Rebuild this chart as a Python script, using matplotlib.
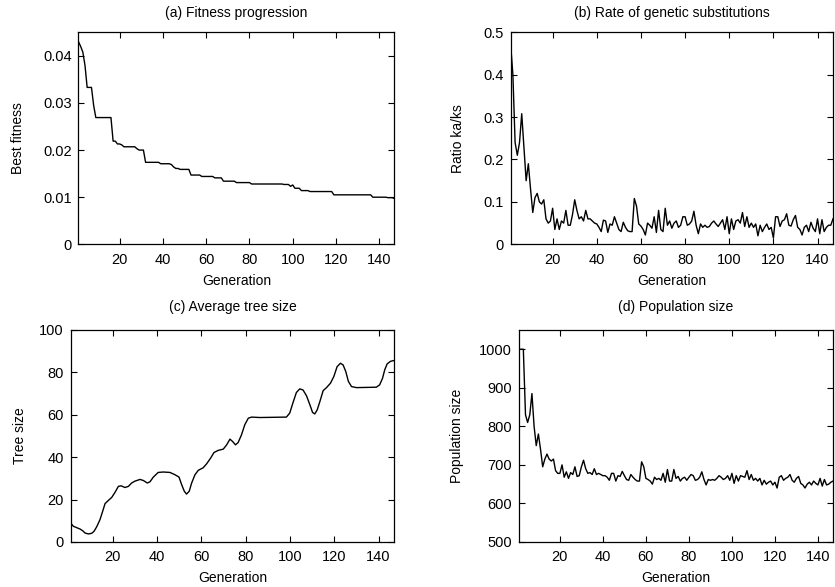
import matplotlib
matplotlib.use("Agg")
import matplotlib.pyplot as plt
import numpy as np
from matplotlib.ticker import FormatStrFormatter

plt.rcParams['font.family'] = ['Liberation Sans', 'DejaVu Sans']
plt.rcParams['font.size'] = 10

gens = np.arange(1, 148)

# (a) best fitness, one value per generation
fitness = [
    0.0430, 0.0420, 0.0408, 0.0380, 0.0333, 0.0333, 0.0333, 0.0295, 0.0269, 0.0269,
    0.0269, 0.0269, 0.0269, 0.0269, 0.0269, 0.0269, 0.0219, 0.0219, 0.0213, 0.0213,
    0.0211, 0.0207, 0.0207, 0.0207, 0.0207, 0.0207, 0.0207, 0.0203, 0.0200, 0.0200,
    0.0200, 0.0174, 0.0174, 0.0174, 0.0174, 0.0174, 0.0174, 0.0174, 0.0171, 0.0171,
    0.0171, 0.0171, 0.0171, 0.0169, 0.0164, 0.0161, 0.0161, 0.0159, 0.0159, 0.0159,
    0.0159, 0.0159, 0.0147, 0.0147, 0.0147, 0.0147, 0.0147, 0.0144, 0.0144, 0.0144,
    0.0144, 0.0144, 0.0144, 0.0141, 0.0141, 0.0141, 0.0141, 0.0134, 0.0134, 0.0134,
    0.0134, 0.0134, 0.0134, 0.0131, 0.0131, 0.0131, 0.0131, 0.0131, 0.0131, 0.0131,
    0.0128, 0.0128, 0.0128, 0.0128, 0.0128, 0.0128, 0.0128, 0.0128, 0.0128, 0.0128,
    0.0128, 0.0128, 0.0128, 0.0128, 0.0128, 0.0127, 0.0127, 0.0127, 0.0123, 0.0126,
    0.0119, 0.0119, 0.0119, 0.0114, 0.0114, 0.0114, 0.0114, 0.0112, 0.0112, 0.0112,
    0.0112, 0.0112, 0.0112, 0.0112, 0.0112, 0.0112, 0.0112, 0.0112, 0.0105, 0.0105,
    0.0105, 0.0105, 0.0105, 0.0105, 0.0105, 0.0105, 0.0105, 0.0105, 0.0105, 0.0105,
    0.0105, 0.0105, 0.0105, 0.0105, 0.0105, 0.0105, 0.0100, 0.0100, 0.0100, 0.0100,
    0.0100, 0.0100, 0.0100, 0.0099, 0.0099, 0.0099, 0.0097,
]

# (b) ka/ks ratio
ratio = [
    0.470, 0.400, 0.240, 0.210, 0.240, 0.308, 0.230, 0.150, 0.190, 0.130,
    0.075, 0.110, 0.120, 0.100, 0.095, 0.105, 0.060, 0.050, 0.055, 0.085,
    0.035, 0.060, 0.035, 0.055, 0.050, 0.080, 0.045, 0.045, 0.070, 0.105,
    0.080, 0.060, 0.065, 0.055, 0.080, 0.060, 0.060, 0.055, 0.050, 0.048,
    0.040, 0.030, 0.057, 0.055, 0.028, 0.048, 0.045, 0.065, 0.050, 0.035,
    0.030, 0.052, 0.040, 0.032, 0.030, 0.030, 0.108, 0.090, 0.048, 0.043,
    0.035, 0.022, 0.050, 0.045, 0.038, 0.065, 0.028, 0.080, 0.035, 0.030,
    0.085, 0.045, 0.055, 0.038, 0.050, 0.055, 0.040, 0.045, 0.065, 0.065,
    0.045, 0.048, 0.055, 0.078, 0.045, 0.025, 0.048, 0.040, 0.045, 0.040,
    0.042, 0.050, 0.055, 0.048, 0.042, 0.050, 0.058, 0.035, 0.065, 0.025,
    0.060, 0.035, 0.055, 0.058, 0.050, 0.075, 0.042, 0.065, 0.040, 0.050,
    0.040, 0.048, 0.020, 0.045, 0.030, 0.040, 0.048, 0.035, 0.040, 0.015,
    0.065, 0.065, 0.042, 0.055, 0.058, 0.072, 0.045, 0.043, 0.058, 0.068,
    0.040, 0.035, 0.022, 0.040, 0.045, 0.030, 0.052, 0.038, 0.030, 0.060,
    0.025, 0.058, 0.030, 0.040, 0.045, 0.045, 0.060,
]

# (c) average tree size
tree_gen = [1.0, 2.2, 5.2, 6.4, 7.5, 9.0, 10.5, 11.5, 12.7, 14.2, 15.4, 16.5, 18.0,
            19.5, 21.0, 22.5, 23.7, 25.5, 27.0, 28.5, 30.0, 32.3, 33.8, 35.6, 36.8,
            38.3, 40.5, 42.8, 45.8, 48.1, 49.9, 51.1, 52.3, 53.3, 54.5, 55.6, 57.1,
            58.6, 60.8, 62.4, 64.2, 65.7, 67.6, 69.9, 71.4, 72.9, 74.1, 75.4, 76.6,
            78.1, 79.6, 81.2, 82.7, 86.4, 98.4, 99.9, 101.4, 102.9, 104.4, 105.9,
            107.5, 109.0, 110.2, 111.2, 112.3, 113.5, 115.0, 116.5, 118.3, 119.8,
            121.3, 122.8, 124.0, 125.2, 126.4, 127.8, 130.0, 139.0, 140.5, 141.8,
            142.8, 143.9, 145.4, 147.0]
tree_size = [8.9, 7.4, 6.1, 5.3, 4.2, 3.8, 4.1, 5.0, 7.1, 10.5, 14.4, 18.1, 19.6,
             21.0, 23.4, 26.2, 26.5, 25.7, 26.2, 27.8, 28.7, 29.5, 29.0, 27.8, 28.4,
             30.6, 32.8, 33.0, 32.8, 31.7, 30.6, 27.0, 23.9, 22.6, 23.9, 27.8, 31.7,
             33.8, 35.0, 36.9, 39.6, 42.2, 43.2, 43.8, 45.8, 48.5, 47.4, 45.8, 46.9,
             50.5, 55.3, 58.4, 58.9, 58.7, 58.9, 60.8, 65.8, 70.5, 72.2, 71.7,
             68.9, 64.7, 61.1, 60.4, 62.3, 66.2, 71.4, 72.8, 74.9, 78.0,
             82.7, 84.3, 83.5, 80.4, 75.7, 73.3, 72.8, 73.0, 74.1, 77.2,
             81.2, 84.0, 85.2, 85.6]

# (d) population size
population = [
    1000, 1000, 1000, 830, 810, 830, 885, 800, 750, 780,
    740, 695, 715, 728, 715, 710, 715, 685, 678, 678,
    700, 668, 682, 665, 680, 675, 695, 670, 672, 695,
    712, 690, 678, 680, 675, 690, 675, 678, 675, 672,
    672, 668, 660, 678, 678, 658, 672, 670, 683, 672,
    662, 660, 675, 668, 662, 658, 658, 708, 695, 665,
    662, 658, 650, 668, 662, 665, 660, 678, 655, 688,
    658, 658, 688, 665, 670, 658, 665, 668, 660, 668,
    675, 672, 660, 662, 668, 682, 662, 648, 662, 660,
    662, 660, 665, 672, 668, 662, 665, 672, 660, 678,
    652, 672, 658, 672, 670, 668, 685, 662, 675, 660,
    665, 658, 665, 648, 660, 650, 655, 658, 648, 655,
    640, 668, 672, 660, 665, 668, 675, 660, 655, 665,
    670, 652, 648, 640, 650, 655, 648, 658, 652, 648,
    665, 645, 662, 648, 650, 655, 658,
]

fig = plt.figure(figsize=(8.35, 5.87), dpi=100)

def style(ax, title, ylabel, tpad, ypad=13):
    ax.set_title(title, fontsize=10, pad=tpad)
    ax.set_xlabel('Generation', labelpad=5)
    ax.set_ylabel(ylabel, labelpad=ypad)
    ax.set_xlim(1, 147)
    ax.set_xticks([20, 40, 60, 80, 100, 120, 140])
    ax.tick_params(direction='in', top=True, right=True, length=4, width=0.8,
                   labelsize=10.5)
    ax.tick_params(axis='x', pad=6)
    ax.tick_params(axis='y', pad=5)
    for s in ax.spines.values():
        s.set_linewidth(0.9)

ax_a = fig.add_axes([0.0940, 0.5838, 0.3784, 0.3612])
ax_a.plot(gens, fitness, color='black', lw=1)
style(ax_a, '(a) Fitness progression', 'Best fitness', 11)
ax_a.set_ylim(0, 0.045)
ax_a.set_yticks([0, 0.01, 0.02, 0.03, 0.04])
ax_a.yaxis.set_major_formatter(FormatStrFormatter('%g'))

ax_b = fig.add_axes([0.6116, 0.5838, 0.386, 0.3612])
ax_b.plot(gens, ratio, color='black', lw=1)
style(ax_b, '(b) Rate of genetic substitutions', 'Ratio ka/ks', 11)
ax_b.set_ylim(0, 0.5)
ax_b.set_yticks([0, 0.1, 0.2, 0.3, 0.4, 0.5])
ax_b.yaxis.set_major_formatter(FormatStrFormatter('%g'))

ax_c = fig.add_axes([0.0847, 0.0767, 0.3872, 0.3612])
ax_c.plot(tree_gen, tree_size, color='black', lw=1)
style(ax_c, '(c) Average tree size', 'Tree size', 14, ypad=9)
ax_c.set_ylim(0, 100)
ax_c.set_yticks([0, 20, 40, 60, 80, 100])

ax_d = fig.add_axes([0.6216, 0.0767, 0.376, 0.3612])
ax_d.plot(gens, population, color='black', lw=1)
style(ax_d, '(d) Population size', 'Population size', 14, ypad=11)
ax_d.set_ylim(500, 1050)
ax_d.set_yticks([500, 600, 700, 800, 900, 1000])

fig.savefig('out.png', dpi=100)
